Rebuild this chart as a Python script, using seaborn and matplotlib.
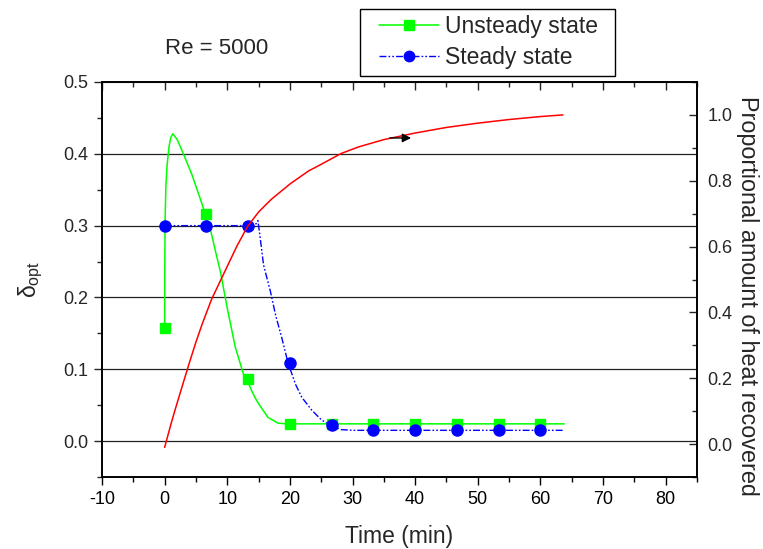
import matplotlib
matplotlib.use("Agg")
import matplotlib.pyplot as plt
from matplotlib.lines import Line2D
from matplotlib.patches import Rectangle
from matplotlib.ticker import MultipleLocator
import seaborn as sns
import pandas as pd

# ---- data ----
unsteady_curve_t = [0, 0.02, 0.08, 0.2, 0.4, 0.7, 1.0, 1.3, 2.0, 3.0, 4.4, 5.7, 6.5, 7.3, 8.1, 8.9, 10.0, 11.3, 12.6, 13.1, 13.9, 14.4, 15.0, 16.5, 18.1, 19.5, 63.8]
unsteady_curve_d = [0.158, 0.24, 0.31, 0.355, 0.385, 0.41, 0.423, 0.428, 0.42, 0.40, 0.37, 0.337, 0.316, 0.295, 0.265, 0.236, 0.185, 0.13, 0.093, 0.086, 0.07, 0.061, 0.052, 0.033, 0.025, 0.024, 0.024]
steady_curve_t = [0, 14.4, 14.9, 15.3, 15.8, 16.9, 17.7, 18.7, 19.7, 20.9, 21.9, 23.5, 25.1, 26.5, 28.2, 30.0, 63.8]
steady_curve_d = [0.3, 0.3, 0.307, 0.28, 0.245, 0.208, 0.176, 0.144, 0.109, 0.079, 0.061, 0.043, 0.029, 0.0225, 0.016, 0.015, 0.015]
marker_t = [0, 6.67, 13.33, 20, 26.67, 33.33, 40, 46.67, 53.33, 60]
unsteady_marker_d = [0.158, 0.316, 0.086, 0.024, 0.024, 0.024, 0.024, 0.024, 0.024, 0.024]
steady_marker_d = [0.3, 0.3, 0.3, 0.109, 0.023, 0.015, 0.015, 0.015, 0.015, 0.015]
heat_t = [0, 0.5, 1, 1.5, 2, 3, 4, 5, 6, 7.5, 9, 10, 11.5, 13.2, 15, 17, 20, 23, 25, 28.2, 31, 35, 40, 45, 50, 55, 60, 63.6]
heat_v = [-0.01, 0.025, 0.06, 0.093, 0.125, 0.188, 0.25, 0.31, 0.365, 0.44, 0.5, 0.54, 0.6, 0.66, 0.705, 0.743, 0.79, 0.83, 0.85, 0.883, 0.903, 0.925, 0.945, 0.962, 0.975, 0.986, 0.995, 1.0]
left_ticks = [0.0, 0.1, 0.2, 0.3, 0.4, 0.5]
right_ticks = [0.0, 0.2, 0.4, 0.6, 0.8, 1.0]
x_ticks = [-10, 0, 10, 20, 30, 40, 50, 60, 70, 80]

sns.set_style("ticks")
plt.rcParams['font.family'] = ['Liberation Sans', 'DejaVu Sans']
plt.rcParams['mathtext.fontset'] = 'custom'
plt.rcParams['mathtext.rm'] = 'Liberation Sans'
plt.rcParams['mathtext.it'] = 'Liberation Sans'
plt.rcParams['axes.unicode_minus'] = False

GREEN = '#00ff00'
BLUE = '#0000ff'
RED = '#ff0000'
dashdotdot = (0, (5, 1.5, 1.2, 1.5, 1.2, 1.5))
TICK_FS = 13
LABEL_FS = 16.5

W, H = 763, 549
fig = plt.figure(figsize=(W / 100, H / 100), dpi=100)
L, R, T, B = 102, 697, 82, 477
ax = fig.add_axes([L / W, 1 - B / H, (R - L) / W, (B - T) / H])

# gridlines at left ticks
for yv in left_ticks[:-1]:
    ax.axhline(yv, color='#222222', lw=0.9, zorder=1)

df_u = pd.DataFrame({'t': unsteady_curve_t, 'd': unsteady_curve_d})
df_s = pd.DataFrame({'t': steady_curve_t, 'd': steady_curve_d})
sns.lineplot(data=df_u, x='t', y='d', ax=ax, color=GREEN, lw=1.1, sort=False, estimator=None, zorder=3)
sns.lineplot(data=df_s, x='t', y='d', ax=ax, color=BLUE, lw=1.0, sort=False, estimator=None, zorder=3)
ax.lines[-1].set_linestyle(dashdotdot)
ax.plot(marker_t, unsteady_marker_d, ls='none', marker='s', ms=7.5, color=GREEN, mec=GREEN, zorder=4)
ax.plot(marker_t, steady_marker_d, ls='none', marker='o', ms=8, color=BLUE, mec=BLUE, zorder=5)

ax.set_xlim(-10, 85)
ax.set_ylim(-0.05, 0.5)
ax.set_xticks(x_ticks)
ax.set_yticks(left_ticks)
ax.xaxis.set_minor_locator(MultipleLocator(5))
ax.yaxis.set_minor_locator(MultipleLocator(0.05))
ax.tick_params(axis='x', which='both', direction='out', top=False, labelsize=TICK_FS, colors='black', pad=4)
ax.tick_params(axis='y', which='both', direction='out', right=False, labelsize=TICK_FS, pad=4)
ax.tick_params(which='major', length=6, width=1)
ax.tick_params(which='minor', length=3.5, width=1)
ax.set_xlabel('Time (min)', fontsize=LABEL_FS, labelpad=12)
ax.set_ylabel(r'$\delta_{\mathrm{opt}}$', fontsize=16.5, labelpad=13)
for s in ax.spines.values():
    s.set_linewidth(1.2)
    s.set_color('black')

# top ticks inward
secx = ax.secondary_xaxis('top')
secx.set_xticks(x_ticks)
secx.xaxis.set_minor_locator(MultipleLocator(5))
secx.tick_params(which='both', direction='in', labeltop=False)
secx.tick_params(which='major', length=6, width=1)
secx.tick_params(which='minor', length=3.5, width=1)

ax2 = ax.twinx()
df_h = pd.DataFrame({'t': heat_t, 'v': heat_v})
sns.lineplot(data=df_h, x='t', y='v', ax=ax2, color=RED, lw=1.1, sort=False, estimator=None)
ax2.annotate('', xy=(39.8, 0.93), xytext=(35.5, 0.93),
             arrowprops=dict(arrowstyle='-|>', color='black', lw=1.0, mutation_scale=13))
ax2.set_ylim(-0.1, 1.1)
ax2.set_yticks(right_ticks)
ax2.yaxis.set_minor_locator(MultipleLocator(0.1))
ax2.tick_params(axis='y', which='both', direction='in', labelsize=TICK_FS, pad=7.5)
ax2.tick_params(which='major', length=6, width=1)
ax2.tick_params(which='minor', length=3.5, width=1)
ax2.set_ylabel('')
ax2.set_xlabel('')
for s in ax2.spines.values():
    s.set_linewidth(1.2)
    s.set_color('black')

fig.text(748 / W, 1 - 296 / H, 'Proportional amount of heat recovered', fontsize=16.8,
         rotation=-90, ha='center', va='center')
fig.text(217 / W, 1 - 49 / H, 'Re = 5000', fontsize=16, ha='center', va='center')

# legend
fig.patches.append(Rectangle((360 / W, 1 - 76 / H), 255 / W, 67 / H, transform=fig.transFigure,
                             fill=False, ec='black', lw=1.0))
handles = [
    Line2D([], [], color=GREEN, lw=1.1, marker='s', ms=7, mec=GREEN),
    Line2D([], [], color=BLUE, lw=1.0, ls=dashdotdot, marker='o', ms=7.5, mec=BLUE),
]
leg = fig.legend(handles, ['Unsteady state', 'Steady state'], loc='upper left',
                 bbox_to_anchor=(379 / W, 1 - 15 / H), fontsize=16.5, frameon=False,
                 handlelength=2.6, borderpad=0, labelspacing=0.33, handletextpad=0.3,
                 borderaxespad=0)

fig.savefig('out.png', dpi=100)
